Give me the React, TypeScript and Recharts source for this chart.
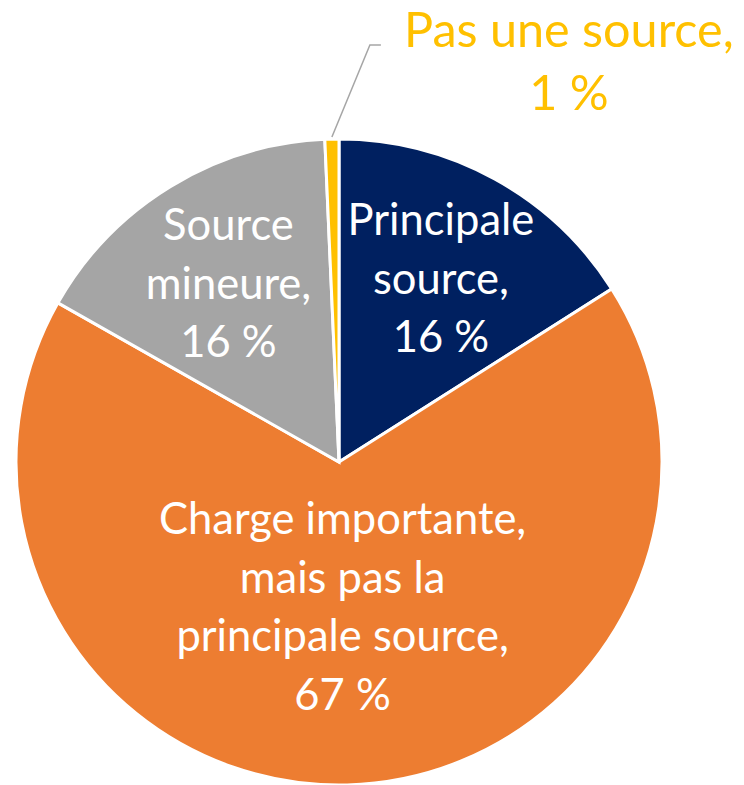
import React from "react";
import { PieChart, Pie, Cell } from "recharts";

const categories = [
  "Principale source",
  "Charge importante, mais pas la principale source",
  "Source mineure",
  "Pas une source",
];
const values = [16, 67.2, 16.1, 0.7];
const labelLines = [
  ["Principale", "source,", "16 %"],
  ["Charge importante,", "mais pas la", "principale source,", "67 %"],
  ["Source", "mineure,", "16 %"],
  ["Pas une source,", "1 %"],
];
const colors = ["#002060", "#ED7D31", "#A5A5A5", "#FFC000"];

const data = categories.map((name, i) => ({ name, value: values[i] }));

const FONT = "Lato, 'Liberation Sans', sans-serif";
const FS = 43.5;
const FS_OUT = 48.5;
const LH = 58.5;
const R_FACTOR = [0.655, 0.443, 0.655];

const renderLabel = (props: any) => {
  const { cx, cy, midAngle, outerRadius, index } = props;
  const RAD = Math.PI / 180;
  const lines = labelLines[index];
  if (index === 3) {
    const sx = cx + outerRadius * Math.cos(-midAngle * RAD);
    const sy = cy + outerRadius * Math.sin(-midAngle * RAD) - 2;
    const ex = sx + 38;
    const ey = sy - 92;
    const tx = ex + 199;
    return (
      <g>
        <polyline
          points={`${sx},${sy} ${ex},${ey} ${ex + 11},${ey}`}
          fill="none"
          stroke="#A6A6A6"
          strokeWidth={1.5}
        />
        {lines.map((l, k) => (
          <text
            key={k}
            x={tx}
            y={ey + 2 + k * 63}
            textAnchor="middle"
            fill="#FFC000"
            fontFamily={FONT}
            fontSize={FS_OUT}
          >
            {l}
          </text>
        ))}
      </g>
    );
  }
  const r = outerRadius * R_FACTOR[index];
  const x = cx + r * Math.cos(-midAngle * RAD);
  const y = cy + r * Math.sin(-midAngle * RAD);
  const y0 = y - ((lines.length - 1) * LH) / 2;
  return (
    <g>
      {lines.map((l, k) => (
        <text
          key={k}
          x={x}
          y={y0 + k * LH}
          textAnchor="middle"
          dominantBaseline="central"
          fill="#FFFFFF"
          fontFamily={FONT}
          fontSize={FS}
        >
          {l}
        </text>
      ))}
    </g>
  );
};

export default function App() {
  return (
    <div style={{ position: "absolute", left: 0, top: 0, width: 744, height: 785, background: "#fff" }}>
      <PieChart width={744} height={785} margin={{ top: 0, right: 0, bottom: 0, left: 0 }}>
        <Pie
          data={data}
          dataKey="value"
          nameKey="name"
          cx={339}
          cy={462}
          outerRadius={323}
          startAngle={90}
          endAngle={-270}
          stroke="#FFFFFF"
          strokeWidth={3}
          label={renderLabel}
          labelLine={false}
          isAnimationActive={false}
        >
          {data.map((d, i) => (
            <Cell key={d.name} fill={colors[i]} />
          ))}
        </Pie>
      </PieChart>
    </div>
  );
}
